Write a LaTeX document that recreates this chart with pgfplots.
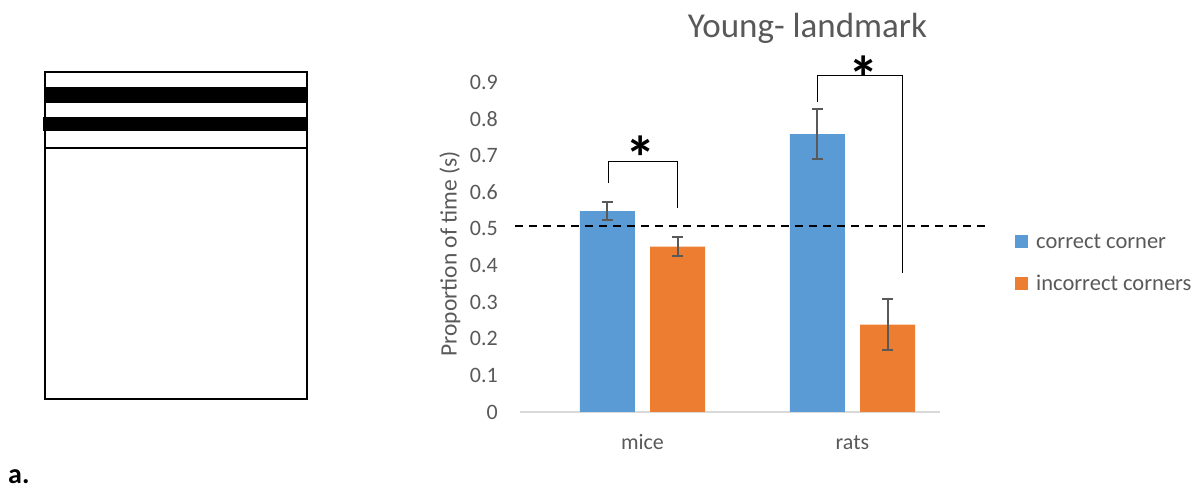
\documentclass[border=0pt]{standalone}
\usepackage{pgfplots}
\pgfplotsset{compat=1.18}
\usepackage{fontspec}
\setmainfont{Carlito}
\definecolor{cblue}{HTML}{5B9BD5}
\definecolor{corange}{HTML}{ED7D31}
\definecolor{ctext}{HTML}{595959}
\definecolor{caxis}{HTML}{D9D9D9}
\pgfplotsset{sqlegend/.style={legend image code/.code={\fill[##1] (0pt,-6.5pt) rectangle (13pt,6.5pt);}}}
\begin{document}
\begin{tikzpicture}
\path[use as bounding box] (0pt,0pt) rectangle (1201pt,489pt);
% left schematic
\draw[line width=2pt] (45pt,90pt) rectangle (307pt,417pt);
\fill (45pt,385.7pt) rectangle (307pt,402.3pt);
\fill (43pt,358.3pt) rectangle (307pt,371.7pt);
\draw[line width=2pt] (45pt,340.7pt) -- (307pt,340.7pt);
\node[anchor=base west, inner sep=0pt, font=\fontsize{28}{30}\selectfont\bfseries] at (8pt,5pt) {a.};
\node[anchor=base, inner sep=0pt, text=ctext, font=\fontsize{35}{38}\selectfont] at (807.5pt,451pt) {Young- landmark};
\begin{axis}[
  at={(520pt,77pt)}, anchor=south west,
  scale only axis, width=420pt, height=330pt,
  xmin=-0.583, xmax=1.417, ymin=0, ymax=0.9,
  clip=false,
  axis x line=bottom, axis y line=left,
  x axis line style={draw=caxis, line width=1.5pt, -},
  y axis line style={draw=none},
  major tick length=0pt,
  xtick={0,1}, xticklabels={mice,rats},
  ytick={0,0.1,0.2,0.3,0.4,0.5,0.6,0.7,0.8,0.9},
  yticklabels={0,0.1,0.2,0.3,0.4,0.5,0.6,0.7,0.8,0.9},
  tick label style={font=\fontsize{22}{24}\selectfont, text=ctext},
  yticklabel style={inner sep=0pt, anchor=east, xshift=-22pt},
  xticklabel style={inner sep=0pt, anchor=base, yshift=-38pt},
  ylabel={Proportion of time (s)},
  ylabel style={font=\fontsize{23.5}{26}\selectfont, text=ctext, inner sep=0pt, at={(axis description cs:-0.167,0.167)}, anchor=west},
  legend cell align=left,
  legend style={draw=none, fill=none, at={(rel axis cs:1.1786,0.546)}, anchor=north west,
    font=\fontsize{22.5}{24}\selectfont, text=ctext, inner sep=0pt, row sep=21pt,
    /tikz/every odd column/.append style={column sep=6pt}},
]
\addplot[ybar, sqlegend, bar width=55pt, bar shift=0pt, fill=cblue, draw=none,
  error bars/.cd, y dir=both, y explicit,
  error bar style={draw=ctext, line width=2pt},
  error mark options={draw=ctext, line width=2pt, mark size=5.5pt, rotate=90}]
  coordinates {(-0.167,0.548) +- (0,0.025) (0.833,0.758) +- (0,0.069)};
\addlegendentry{correct corner}
\addplot[ybar, sqlegend, bar width=55pt, bar shift=0pt, fill=corange, draw=none,
  error bars/.cd, y dir=both, y explicit,
  error bar style={draw=ctext, line width=2pt},
  error mark options={draw=ctext, line width=2pt, mark size=5.5pt, rotate=90}]
  coordinates {(0.167,0.451) +- (0,0.025) (1.167,0.238) +- (0,0.069)};
\addlegendentry{incorrect corners}
\addplot[forget plot, black, line width=1.5pt, dash pattern=on 8pt off 6pt]
  coordinates {(-0.607,0.507) (1.631,0.507)};
\draw[line width=0.8pt] (axis cs:-0.16,0.624) |- (axis cs:0.167,0.684) -- (axis cs:0.167,0.556);
\draw[line width=0.8pt] (axis cs:0.831,0.846) |- (axis cs:1.236,0.917) -- (axis cs:1.236,0.378);
\node[font=\fontsize{61}{61}\selectfont\bfseries, yshift=-13.4pt] at (axis cs:-0.007,0.731) {*};
\node[font=\fontsize{61}{61}\selectfont\bfseries, yshift=-13.4pt] at (axis cs:1.055,0.949) {*};
\end{axis}
\end{tikzpicture}
\end{document}
